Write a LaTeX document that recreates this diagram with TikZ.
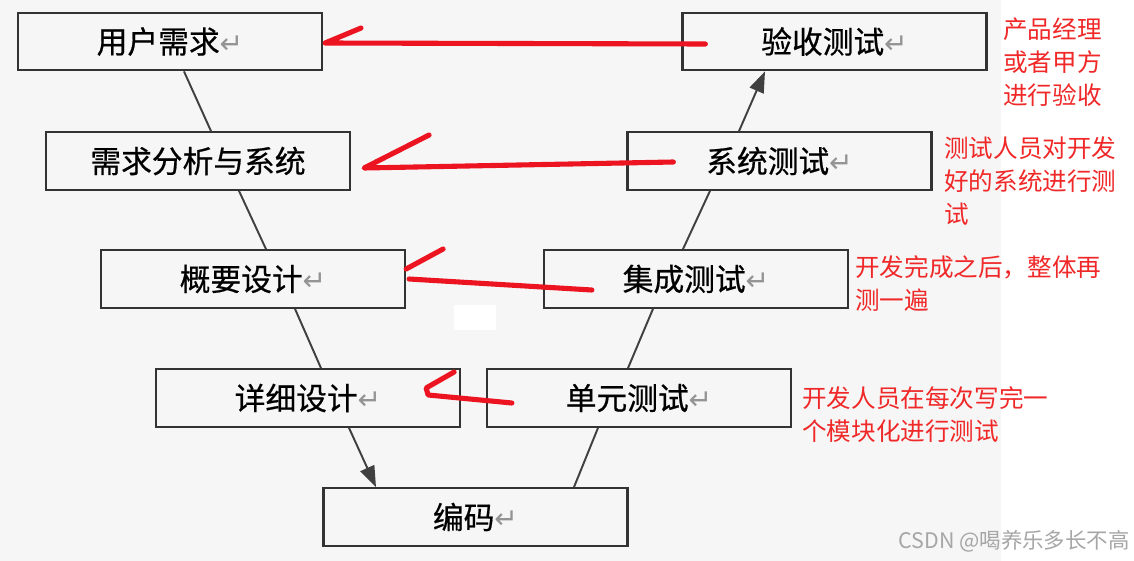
\documentclass[tikz,border=0pt]{standalone}
\usepackage{fontspec}
\setmainfont{Noto Sans CJK SC}
\newfontfamily\boxfont{Noto Sans CJK SC}[FakeBold=0.6]
\newfontfamily\retfont{DejaVu Sans}
\usepackage{tikz}
\usetikzlibrary{arrows.meta,positioning,calc}
\definecolor{boxgray}{RGB}{51,51,51}
\definecolor{markred}{RGB}{236,20,32}
\definecolor{notered}{RGB}{240,40,40}
\definecolor{paper}{RGB}{246,246,246}
\newcommand{\ret}{{\retfont\fontsize{16}{16}\selectfont\color{black!42}↵}}

\begin{document}
\begin{tikzpicture}[
  x=0.02cm, y=-0.02cm,
  every node/.style={font=\boxfont\fontsize{17.5}{20}\selectfont},
  stage/.style={rectangle, minimum width=6.08cm, minimum height=1.15cm, inner sep=0pt, draw=boxgray, line width=1.3pt, fill=paper},
  note/.style={font=\fontsize{14}{18.8}\selectfont, text=notered, align=left, anchor=west, inner sep=0pt},
  link/.style={draw=black!75, line width=1.1pt},
  arrow/.style={link, -{Triangle[length=0.42cm,width=0.3cm]}},
  redmark/.style={draw=markred, line width=2.9pt, line cap=round, line join=round}
]

% Background
\useasboundingbox (0,0) rectangle (1134,561);
\fill[white] (0,0) rectangle (1134,561);
\fill[paper] (0,0) rectangle (1001,561);
\fill[white] (454,305) rectangle (496,330);

% Level 1
\node[stage] (need) at (170,41.5) {用户需求\ret};
\node[stage] (accept) at (834.5,41.5) {验收测试\ret};

% Level 2
\node[stage] (sysana) at (198,161) {需求分析与系统};
\node[stage] (systest) at (779.5,161) {系统测试\ret};

% Level 3
\node[stage] (outline) at (253,279) {概要设计\ret};
\node[stage] (integ) at (696,279) {集成测试\ret};

% Level 4
\node[stage] (detail) at (308,398) {详细设计\ret};
\node[stage] (unit) at (639,398) {单元测试\ret};

% Bottom
\node[stage] (code) at (475.5,517) {编码\ret};

% V connectors
\draw[link] ($(need.south)+(14,0)$) -- ($(sysana.north)+(13,0)$);
\draw[link] ($(sysana.south)+(41,0)$) -- ($(outline.north)+(13,0)$);
\draw[link] ($(outline.south)+(42,0)$) -- ($(detail.north)+(13,0)$);
\draw[arrow] ($(detail.south)+(41,0)$) -- ($(code.north)+(-99.5,0)$);
\draw[link] ($(code.north)+(98.5,0)$) -- ($(unit.south)+(-41,0)$);
\draw[link] ($(unit.north)+(-11,0)$) -- ($(integ.south)+(-43,0)$);
\draw[link] ($(integ.north)+(-13,0)$) -- ($(systest.south)+(-69.5,0)$);
\draw[arrow] ($(systest.north)+(-40.5,0)$) -- ($(accept.south)+(-69.5,0)$);

% Red marks
\draw[redmark] ($(accept.west)+(24,2.5)$) -- ($(need.east)+(2,1.5)$) -- ++(36,-15);
\draw[redmark] ($(systest.west)+(47,1)$) -- ($(sysana.east)+(13,7)$) -- ++(65,-33);
\draw[redmark] ($(integ.west)+(49,11)$) -- ($(outline.east)+(3,0)$);
\draw[redmark] ($(outline.east)+(0,-10)$) -- ++(37,-20);
\draw[redmark] ($(unit.west)+(26,5)$) -- ($(detail.east)+(-33,-3)$) -- ++(-2,-7) -- ++(28,-16);

% Notes
\node[note] (note1) at (1003,62) {产品经理\\或者甲方\\进行验收};
\node[note] (note2) at (944,181) {测试人员对开发\\好的系统进行测\\试};
\node[note] (note3) at (855,284) {开发完成之后，整体再\\测一遍};
\node[note] (note4) at (802,415) {开发人员在每次写完一\\个模块化进行测试};

% Watermark
\node[font=\fontsize{12.2}{14}\selectfont, text=black!35, anchor=east, inner sep=0pt] (wm) at (1130,541) {CSDN @喝养乐多长不高};

\end{tikzpicture}
\end{document}
